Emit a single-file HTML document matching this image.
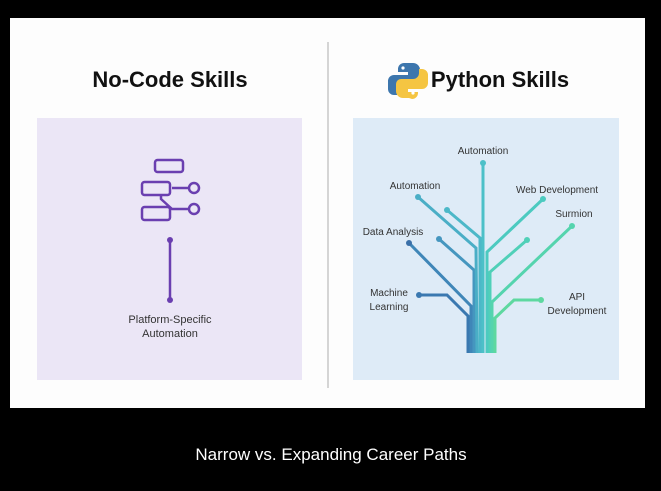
<!DOCTYPE html>
<html><head><meta charset="utf-8"><style>
body{margin:0;width:661px;height:486px;background:#000;overflow:hidden;font-family:"Liberation Sans",sans-serif}
</style></head><body>
<svg width="661" height="486" viewBox="0 0 661 486" xmlns="http://www.w3.org/2000/svg" font-family="Liberation Sans, sans-serif">
<rect x="10" y="18" width="635" height="390" fill="#fdfdfd"/>
<line x1="328" y1="42" x2="328" y2="388" stroke="#c8c8c8" stroke-width="1.5"/>
<text x="170" y="87" font-size="22" font-weight="bold" text-anchor="middle" fill="#111">No-Code Skills</text>
<text x="500" y="87" font-size="22" font-weight="bold" text-anchor="middle" fill="#111">Python Skills</text>
<!-- python logo -->
<g>
<path d="M407 63 h6 a7 7 0 0 1 7 7 v10 a5 5 0 0 1 -5 5 h-12 a6 6 0 0 0 -6 6 v4 h-3 a6 6 0 0 1 -6 -6 v-8 a6 6 0 0 1 6 -6 h14 v-3 h-10 v-3 a6 6 0 0 1 6 -6z" fill="#3d76ad"/>
<circle cx="403" cy="68" r="1.6" fill="#fff"/>
<path d="M409 98 h-6 a7 7 0 0 1 -7 -7 v-7 a5 5 0 0 1 5 -5 h12 a6 6 0 0 0 6 -6 v-4 h3 a6 6 0 0 1 6 6 v8 a6 6 0 0 1 -6 6 h-14 v3 h10 v1 a6 6 0 0 1 -6 6z" fill="#f5c542"/>
<circle cx="413" cy="93" r="1.6" fill="#fff"/>
</g>
<rect x="37" y="118" width="265" height="262" fill="#ebe6f6"/>
<rect x="353" y="118" width="266" height="262" fill="#deebf7"/>
<!-- left icon -->
<g stroke="#6a3fb0" stroke-width="2.5" fill="none">
<rect x="155" y="160" width="28" height="12" rx="2.5"/>
<rect x="142" y="182" width="28" height="13" rx="2.5"/>
<rect x="142" y="207" width="28" height="13" rx="2.5"/>
<circle cx="194" cy="188" r="5"/>
<circle cx="194" cy="209" r="5"/>
<line x1="172" y1="188" x2="189" y2="188"/>
<polyline points="161,195 161,199 172,209 189,209"/>
<line x1="170" y1="240" x2="170" y2="300"/>
</g>
<circle cx="170" cy="240" r="3" fill="#6a3fb0"/>
<circle cx="170" cy="300" r="3" fill="#6a3fb0"/>
<text x="170" y="323" font-size="11" text-anchor="middle" fill="#333">Platform-Specific</text>
<text x="170" y="337" font-size="11" text-anchor="middle" fill="#333">Automation</text>
<!-- tree -->
<g fill="none" stroke-width="3">
<polyline points="419,295 447,295 468,316 468,353" stroke="#3a78b0"/>
<polyline points="409,243 471,306 471,353" stroke="#3f86b8"/>
<polyline points="439,239 474,270 474,353" stroke="#4596bf"/>
<polyline points="418,197 476,248 477,353" stroke="#4aaec6"/>
<polyline points="447,210 480,238 480,353" stroke="#4cb8c8"/>
<line x1="483" y1="163" x2="483" y2="353" stroke="#4cc0c8"/>
<polyline points="543,199 487,252 487,353" stroke="#4ccac0"/>
<polyline points="527,240 490,272 490,353" stroke="#50d0b8"/>
<polyline points="572,226 492,302 492,353" stroke="#55d4ae"/>
<polyline points="541,300 514,300 495,318 495,353" stroke="#5ed8a0"/>
</g>
<g>
<circle cx="419" cy="295" r="3" fill="#3a78b0"/>
<circle cx="409" cy="243" r="3" fill="#3a6fa8"/>
<circle cx="439" cy="239" r="3" fill="#4596bf"/>
<circle cx="418" cy="197" r="3" fill="#4aaec6"/>
<circle cx="447" cy="210" r="3" fill="#4cb8c8"/>
<circle cx="483" cy="163" r="3" fill="#4cc0c8"/>
<circle cx="543" cy="199" r="3" fill="#4ccac0"/>
<circle cx="527" cy="240" r="3" fill="#50d0b8"/>
<circle cx="572" cy="226" r="3" fill="#55d4ae"/>
<circle cx="541" cy="300" r="3" fill="#5ed8a0"/>
</g>
<g font-size="10" fill="#333" text-anchor="middle">
<text x="483" y="154">Automation</text>
<text x="415" y="189">Automation</text>
<text x="557" y="193">Web Development</text>
<text x="574" y="217">Surmion</text>
<text x="393" y="235">Data Analysis</text>
<text x="389" y="296">Machine</text>
<text x="389" y="310">Learning</text>
<text x="577" y="300">API</text>
<text x="577" y="314">Development</text>
</g>
<text x="331" y="460" font-size="17" fill="#fff" text-anchor="middle">Narrow vs. Expanding Career Paths</text>
</svg>
</body></html>
